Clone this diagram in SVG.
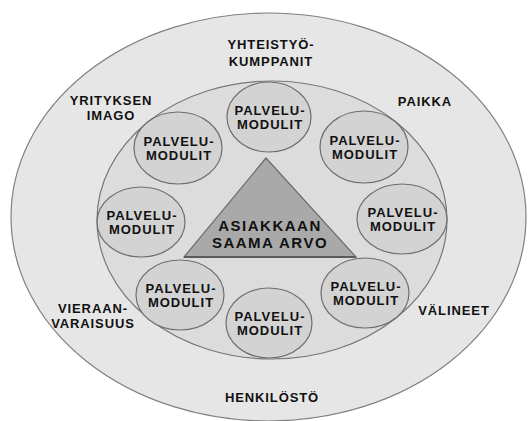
<svg xmlns="http://www.w3.org/2000/svg" width="528" height="421" viewBox="0 0 528 421">
<style>
.t{font-family:"Liberation Sans",Arial,sans-serif;font-weight:bold;fill:#111;text-anchor:middle}
.o{font-size:13px;letter-spacing:0.9px}
.m{font-size:13px;letter-spacing:1px}
.c{fill:#d3d3d3;stroke:#6e6e6e;stroke-width:1.2}
</style>
<rect width="528" height="421" fill="#ffffff"/>
<g id="outer">
<ellipse cx="268.5" cy="217" rx="257.5" ry="204" fill="#e6e6e6" stroke="#808080" stroke-width="1.2"/>
<text class="t o" x="271" y="49">YHTEISTYÖ-</text>
<text class="t o" x="271" y="66">KUMPPANIT</text>
<text class="t o" x="111" y="105">YRITYKSEN</text>
<text class="t o" x="111" y="120">IMAGO</text>
<text class="t o" x="425" y="106">PAIKKA</text>
<text class="t o" x="93" y="313">VIERAAN-</text>
<text class="t o" x="93" y="328">VARAISUUS</text>
<text class="t o" x="454" y="315">VÄLINEET</text>
<text class="t o" x="272" y="402">HENKILÖSTÖ</text>
</g>
<g id="inner">
<ellipse cx="272" cy="220" rx="175" ry="139" fill="#dcdcdc" stroke="#777" stroke-width="1.2"/>
</g>
<g id="m1"><ellipse class="c" cx="269" cy="117" rx="42" ry="35"/><text class="t m" x="270" y="115">PALVELU-</text><text class="t m" x="270" y="129">MODULIT</text></g>
<g id="m2"><ellipse class="c" cx="178" cy="148" rx="44" ry="36"/><text class="t m" x="179" y="146">PALVELU-</text><text class="t m" x="179" y="160">MODULIT</text></g>
<g id="m3"><ellipse class="c" cx="364" cy="147" rx="44" ry="36"/><text class="t m" x="365" y="145">PALVELU-</text><text class="t m" x="365" y="159">MODULIT</text></g>
<g id="m4"><ellipse class="c" cx="141" cy="222" rx="44" ry="35"/><text class="t m" x="142" y="220">PALVELU-</text><text class="t m" x="142" y="234">MODULIT</text></g>
<g id="m5"><ellipse class="c" cx="402" cy="219" rx="45" ry="35"/><text class="t m" x="403" y="217">PALVELU-</text><text class="t m" x="403" y="231">MODULIT</text></g>
<g id="m6"><ellipse class="c" cx="180" cy="295" rx="44" ry="35"/><text class="t m" x="181" y="293">PALVELU-</text><text class="t m" x="181" y="307">MODULIT</text></g>
<g id="m7"><ellipse class="c" cx="365" cy="293" rx="44" ry="35"/><text class="t m" x="366" y="291">PALVELU-</text><text class="t m" x="366" y="305">MODULIT</text></g>
<g id="m8"><ellipse class="c" cx="269" cy="323" rx="43" ry="35"/><text class="t m" x="270" y="321">PALVELU-</text><text class="t m" x="270" y="335">MODULIT</text></g>
<g id="value">
<polygon points="266,158 184,257 356,257" fill="#a9a9a9" stroke="#6a6a6a" stroke-width="1.2"/>
<line x1="184" y1="257" x2="356" y2="257" stroke="#5a5a5a" stroke-width="2"/>
<text class="t" style="font-size:15px;letter-spacing:1.5px" x="270" y="231">ASIAKKAAN</text>
<text class="t" style="font-size:15px;letter-spacing:1.5px" x="270" y="248">SAAMA ARVO</text>
</g>
</svg>
